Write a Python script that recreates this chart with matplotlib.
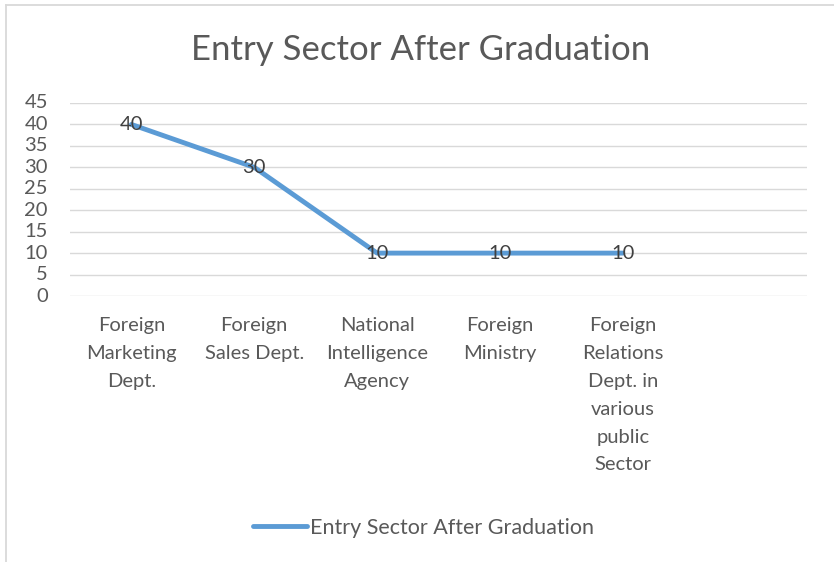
import matplotlib.pyplot as plt
from matplotlib.lines import Line2D
import numpy as np

CATEGORIES = [
    "Foreign\nMarketing\nDept.",
    "Foreign\nSales Dept.",
    "National\nIntelligence\nAgency",
    "Foreign\nMinistry",
    "Foreign\nRelations\nDept. in\nvarious\npublic\nSector",
    "",
]
VALUES = [40, 30, 10, 10, 10]
SERIES_NAME = "Entry Sector After Graduation"
Y_TICKS = [0, 5, 10, 15, 20, 25, 30, 35, 40, 45]

LINE_COLOR = "#5B9BD5"
GRID_COLOR = "#D9D9D9"
TEXT_COLOR = "#595959"
LABEL_COLOR = "#404040"
FS = 14.5

plt.rcParams["font.family"] = ["Lato", "DejaVu Sans"]

fig = plt.figure(figsize=(8.34, 5.62), dpi=100)
ax = fig.add_axes([70 / 834, 1 - 296 / 562, 737 / 834, 193 / 562])

x = np.arange(len(VALUES))
ax.plot(x, VALUES, color=LINE_COLOR, linewidth=3.5, solid_capstyle="round",
        solid_joinstyle="round", zorder=3)
for xi, yi in zip(x, VALUES):
    ax.text(xi, yi, str(yi), ha="center", va="center", fontsize=FS,
            color=LABEL_COLOR, zorder=4)

ax.set_xlim(-0.5, len(CATEGORIES) - 0.5)
ax.set_ylim(0, 45)
ax.set_yticks(Y_TICKS)
ax.set_xticks(np.arange(len(CATEGORIES)))
ax.set_xticklabels(CATEGORIES, linespacing=1.78)
ax.tick_params(axis="both", length=0, labelsize=FS, labelcolor=TEXT_COLOR)
ax.tick_params(axis="y", pad=16)
ax.tick_params(axis="x", pad=15)
for label in ax.get_yticklabels():
    label.set_verticalalignment("center")
ax.grid(axis="y", color=GRID_COLOR, linewidth=1.0, zorder=0)
for spine in ax.spines.values():
    spine.set_visible(False)

fig.text(0.504, 1 - 50 / 562, "Entry Sector After Graduation", ha="center",
         va="center", fontsize=25, color=TEXT_COLOR)

handle = Line2D([], [], color=LINE_COLOR, linewidth=3.5, solid_capstyle="round")
fig.legend([handle], [SERIES_NAME], loc="center", bbox_to_anchor=(0.508, 1 - 528 / 562),
           frameon=False, fontsize=15.5, labelcolor=TEXT_COLOR, handlelength=2.5,
           handletextpad=0.15)

# chart border (cropped on right and bottom)
fig.add_artist(Line2D([6 / 834, 6 / 834], [0, 1 - 5 / 562], color=GRID_COLOR,
                      linewidth=1.3, transform=fig.transFigure))
fig.add_artist(Line2D([6 / 834, 1], [1 - 5 / 562, 1 - 5 / 562], color=GRID_COLOR,
                      linewidth=1.3, transform=fig.transFigure))

fig.savefig("out.png", dpi=100)
